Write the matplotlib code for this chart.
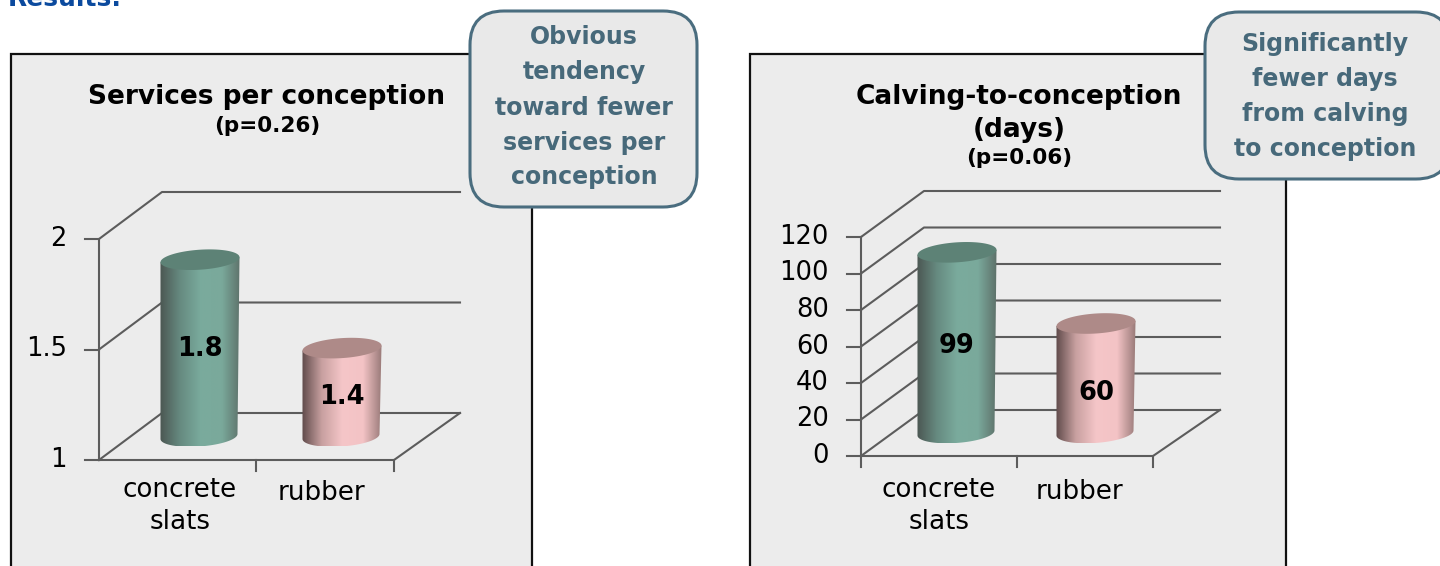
import numpy as np
import matplotlib
matplotlib.use("Agg")
import matplotlib.pyplot as plt
from matplotlib.colors import LinearSegmentedColormap
from matplotlib.patches import FancyBboxPatch, Polygon, Rectangle

W, H = 1440, 566

categories = ["concrete\nslats", "rubber"]
services = [1.8, 1.4]
services_ticks = [1, 1.5, 2]
services_labels = ["1", "1.5", "2"]
days = [99, 60]
days_ticks = [0, 20, 40, 60, 80, 100, 120]

LINE = "#5c5c5c"
PANEL = "#ececec"
TEAL = LinearSegmentedColormap.from_list("teal", ["#4a5450", "#668a80", "#7aab9d", "#7aa99b", "#5a6a64"])
PINK = LinearSegmentedColormap.from_list("pink", ["#5a4646", "#c8a0a0", "#f5c6c8", "#f3c3c5", "#8f7270"])
TEAL_TOP = "#5d8276"
PINK_TOP = "#ae8a88"

fig = plt.figure(figsize=(W / 100, H / 100), dpi=100)
bg = fig.add_axes([0, 0, 1, 1])
bg.set_xlim(0, W)
bg.set_ylim(H, 0)
bg.axis("off")


def chart(box, ylim, ticks, labels, values, bar_x, split, dx, dy, label_shift, left_tick=False, extra=4):
    # box is the front plane in pixels: left, right, bottom, top
    left, right, bottom, top = box
    ax = fig.add_axes([left / W, 1 - bottom / H, (right - left) / W, (bottom - top) / H], zorder=2)
    ax.set_xlim(0, 2)
    ax.set_ylim(*ylim)
    ax.axis("off")
    px = 2 / (right - left)
    py = (ylim[1] - ylim[0]) / (bottom - top)
    ddx, ddy = dx * px, dy * py
    base = ylim[0]
    end = 2 + ddx + extra * px

    # floor and grid
    for t, lab in zip(ticks, labels):
        ax.plot([0, ddx, end], [t, t + ddy, t + ddy], color=LINE, lw=1.5, clip_on=False, zorder=1)
        ax.plot([-14 * px, 0], [t, t], color=LINE, lw=1.5, clip_on=False, zorder=1)
        ax.text(-32 * px, t, lab, ha="right", va="center", fontsize=18.5, color="black", clip_on=False)
    ax.plot([0, 2, end], [base, base, base + ddy], color=LINE, lw=1.5, clip_on=False, zorder=1)
    ax.plot([0, 0], [base, ylim[1]], color=LINE, lw=1.5, clip_on=False, zorder=1)
    tick_pos = [0, split, 2] if left_tick else [split, 2]
    for x in tick_pos:
        ax.plot([x, x], [base, base - 11 * py], color=LINE, lw=1.5, clip_on=False, zorder=1)

    # cylinders
    rx, ry = 39.5 * px, 10 * py
    tilt = 2.5 * py
    t = np.linspace(0, 2 * np.pi, 121)
    low = t[t >= np.pi]
    for i, v in enumerate(values):
        cx = bar_x[i] + ddx / 2
        y0 = base + ddy / 2
        y1 = v + ddy / 2
        xs = np.r_[cx - 1 * px + (rx - 1 * px) * np.cos(low), cx + rx * np.cos(low[::-1])]
        ys = np.r_[y0 + ry * np.sin(low) + tilt * np.cos(low), y1 + tilt * np.cos(low[::-1])]
        cmap, top_col = (TEAL, TEAL_TOP) if i == 0 else (PINK, PINK_TOP)
        body = Polygon(np.c_[xs, ys], closed=True, fc="none", ec="none")
        ax.add_patch(body)
        grad = np.linspace(0, 1, 256).reshape(1, -1)
        im = ax.imshow(grad, cmap=cmap, aspect="auto", extent=[cx - rx - 2 * px, cx + rx + 2 * px, y0 - ry, y1 + ry],
                       zorder=3, clip_on=True)
        im.set_clip_path(body)
        ax.fill(cx + rx * np.cos(t), y1 + ry * np.sin(t) + tilt * np.cos(t), color=top_col, zorder=4, clip_on=False, lw=0)
        ax.text(cx, (y0 + y1) / 2 - label_shift[i] * py, str(v), ha="center", va="center",
                fontsize=18.5, fontweight="bold", zorder=5)
    ax.set_xlim(0, 2)
    ax.set_ylim(*ylim)
    return ax


# panels
bg.add_patch(Rectangle((11, 54), 521, 530, fc=PANEL, ec="#111111", lw=1.6))
bg.add_patch(Rectangle((750, 54), 536, 530, fc=PANEL, ec="#111111", lw=1.6))

bg.text(8, -1, "Results:", color="#0b4a9e", fontsize=18, fontweight="bold", ha="left", va="center")

bg.text(267, 97, "Services per conception", ha="center", va="center", fontsize=19, fontweight="bold")
bg.text(267, 126, "(p=0.26)", ha="center", va="center", fontsize=15.5, fontweight="bold")
bg.text(1019, 97, "Calving-to-conception", ha="center", va="center", fontsize=19, fontweight="bold")
bg.text(1019, 130, "(days)", ha="center", va="center", fontsize=19, fontweight="bold")
bg.text(1019, 158, "(p=0.06)", ha="center", va="center", fontsize=15.5, fontweight="bold")

chart((99, 394, 460, 239), (1, 2), services_ticks, services_labels, services,
      [(200 - 99 - 31.5) / 147.5, (342 - 99 - 31.5) / 147.5], 1.064, 63, 47, [1, 5], extra=3)
chart((861, 1153, 456, 237), (0, 120), days_ticks, [str(d) for d in days_ticks], days,
      [(957 - 861 - 31.5) / 146, (1096 - 861 - 31.5) / 146], 1.068, 63, 46, [3, 15], left_tick=True)

# category labels
bg.text(180, 506, categories[0], ha="center", va="center", fontsize=18.8, linespacing=1.32)
bg.text(321, 493, categories[1], ha="center", va="center", fontsize=18.8)
bg.text(939, 506, categories[0], ha="center", va="center", fontsize=18.8, linespacing=1.32)
bg.text(1079, 492, categories[1], ha="center", va="center", fontsize=18.8)

# callouts
top = fig.add_axes([0, 0, 1, 1], zorder=6)
top.set_xlim(0, W)
top.set_ylim(H, 0)
top.axis("off")
top.patch.set_alpha(0)
for x0, y0, w, h, lines, ys, cx in [
    (470, 11, 227, 196, ["Obvious", "tendency", "toward fewer", "services per", "conception"], [37, 72, 108, 143, 177], 584),
    (1205, 12, 245, 167, ["Significantly", "fewer days", "from calving", "to conception"], [44, 79, 114, 149], 1325),
]:
    top.add_patch(FancyBboxPatch((x0 + 34, y0 + 34), w - 68, h - 68, boxstyle="round,pad=34,rounding_size=34",
                                 fc="#e9e9e9", ec="#4a6d7f", lw=2.2, clip_on=False))
    for s, y in zip(lines, ys):
        top.text(cx, y, s, ha="center", va="center", fontsize=17, fontweight="bold", color="#47697a")

fig.savefig("out.png", dpi=100)
